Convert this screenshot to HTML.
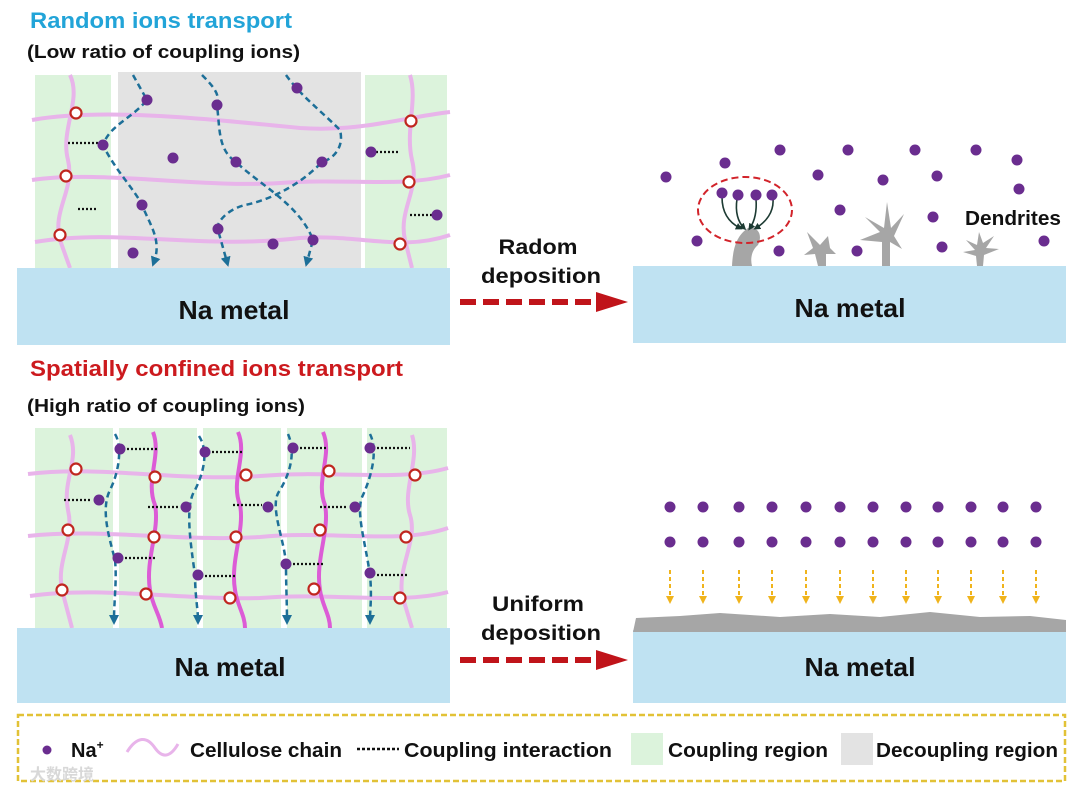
<!DOCTYPE html>
<html><head><meta charset="utf-8"><style>
html,body{margin:0;padding:0;background:#fff;}
svg{display:block;font-family:"Liberation Sans",Arial,sans-serif;font-weight:bold;}
</style></head><body>
<svg width="1080" height="795" viewBox="0 0 1080 795" xmlns="http://www.w3.org/2000/svg">
<defs>
<marker id="ba" markerWidth="10" markerHeight="10" refX="5" refY="5" orient="auto" markerUnits="userSpaceOnUse"><path d="M0,0 L10,5 L0,10 Z" fill="#1d6f98"/></marker>
<marker id="ya" markerWidth="8" markerHeight="8" refX="4" refY="4" orient="auto" markerUnits="userSpaceOnUse"><path d="M0,0 L8,4 L0,8 Z" fill="#f0b41c"/></marker>
<marker id="ka" markerWidth="7" markerHeight="7" refX="4" refY="3.5" orient="auto" markerUnits="userSpaceOnUse"><path d="M0,0 L7,3.5 L0,7 Z" fill="#1d3b33"/></marker>
</defs>

<!-- Titles -->
<text x="30" y="28" font-size="22" fill="#22a4d8" textLength="262" lengthAdjust="spacingAndGlyphs">Random ions transport</text>
<text x="27" y="58" font-size="18" fill="#111" textLength="273" lengthAdjust="spacingAndGlyphs">(Low ratio of coupling ions)</text>
<text x="30" y="376" font-size="22" fill="#cc1a1e" textLength="373" lengthAdjust="spacingAndGlyphs">Spatially confined ions transport</text>
<text x="27" y="412" font-size="18" fill="#111" textLength="278" lengthAdjust="spacingAndGlyphs">(High ratio of coupling ions)</text>

<!-- TOP LEFT -->
<rect x="35" y="75" width="76" height="193" fill="#dcf3dc"/>
<rect x="365" y="75" width="82" height="193" fill="#dcf3dc"/>
<rect x="118" y="72" width="243" height="196" fill="#e3e3e3"/>
<g fill="none" stroke="#e8b4ea" stroke-width="4">
<path d="M32,120 C100,108 200,118 300,128 C360,132 400,118 450,112"/>
<path d="M32,180 C100,170 200,188 280,183 C350,178 400,188 450,175"/>
<path d="M35,242 C120,228 200,250 300,238 C360,234 400,252 450,235"/>
<path d="M70,75 C82,100 60,130 68,160 C75,190 52,210 60,240 L70,268"/>
<path d="M410,75 C418,100 405,130 412,160 C420,190 398,210 405,240 L412,268"/>
</g>
<g fill="#fff" stroke="#c0261f" stroke-width="2.2">
<circle cx="76" cy="113" r="5.5"/><circle cx="66" cy="176" r="5.5"/><circle cx="60" cy="235" r="5.5"/>
<circle cx="411" cy="121" r="5.5"/><circle cx="409" cy="182" r="5.5"/><circle cx="400" cy="244" r="5.5"/>
</g>
<g fill="none" stroke="#1d6f98" stroke-width="2.5" stroke-dasharray="6,4">
<path d="M133,75 L147,100 C130,120 110,125 103,145 C115,170 135,190 142,205 C150,225 162,240 154,262" marker-end="url(#ba)"/>
<path d="M202,75 C215,88 220,95 217,105 C220,130 218,150 236,162 C260,185 300,205 313,240 L307,262" marker-end="url(#ba)"/>
<path d="M286,75 C300,95 320,110 340,130 C345,150 330,160 322,162 C300,185 270,200 245,205 C225,210 215,225 218,230 L227,262" marker-end="url(#ba)"/>
</g>
<g stroke="#111" stroke-width="2.2" stroke-dasharray="2,2">
<line x1="68" y1="143" x2="98" y2="143"/><line x1="78" y1="209" x2="98" y2="209"/>
<line x1="376" y1="152" x2="398" y2="152"/><line x1="410" y1="215" x2="432" y2="215"/>
</g>
<g fill="#6a2d8f">
<circle cx="147" cy="100" r="5.5"/><circle cx="217" cy="105" r="5.5"/><circle cx="297" cy="88" r="5.5"/>
<circle cx="103" cy="145" r="5.5"/><circle cx="173" cy="158" r="5.5"/><circle cx="236" cy="162" r="5.5"/>
<circle cx="322" cy="162" r="5.5"/><circle cx="142" cy="205" r="5.5"/><circle cx="218" cy="229" r="5.5"/>
<circle cx="313" cy="240" r="5.5"/><circle cx="273" cy="244" r="5.5"/><circle cx="133" cy="253" r="5.5"/>
<circle cx="371" cy="152" r="5.5"/><circle cx="437" cy="215" r="5.5"/>
</g>
<rect x="17" y="268" width="433" height="77" fill="#bfe2f2"/>
<text x="234" y="319" font-size="26" text-anchor="middle" fill="#111" textLength="111" lengthAdjust="spacingAndGlyphs">Na metal</text>

<!-- middle top -->
<text x="538" y="254" font-size="21" text-anchor="middle" fill="#111" textLength="79" lengthAdjust="spacingAndGlyphs">Radom</text>
<text x="541" y="283" font-size="21" text-anchor="middle" fill="#111" textLength="120" lengthAdjust="spacingAndGlyphs">deposition</text>
<line x1="460" y1="302" x2="600" y2="302" stroke="#c0141a" stroke-width="6" stroke-dasharray="16,7"/>
<path d="M596,292 L628,302 L596,312 Z" fill="#c0141a"/>

<!-- TOP RIGHT -->
<g fill="#a6a6a6">
<path d="M732,266 C733,245 738,235 748,228 C758,226 763,235 758,245 C752,250 750,258 752,266 Z"/>
<path d="M818,266 L815,254 L804,255 L813,248 L807,232 L820,245 L828,236 L830,248 L836,254 L826,254 L826,266 Z"/>
<path d="M882,266 L882,242 L860,240 L880,232 L865,217 L884,228 L887,202 L891,228 L904,214 L894,236 L902,249 L890,242 L890,266 Z"/>
<path d="M977,266 L976,256 L963,252 L975,250 L966,240 L977,245 L979,232 L983,243 L994,236 L986,248 L999,249 L984,255 L983,266 Z"/>
</g>
<ellipse cx="745" cy="210" rx="47" ry="33" fill="none" stroke="#d2232a" stroke-width="2" stroke-dasharray="7,4"/>
<g fill="none" stroke="#1d3b33" stroke-width="1.6">
<path d="M722,197 C722,212 728,222 740,228" marker-end="url(#ka)"/>
<path d="M737,199 C735,212 738,222 744,228" marker-end="url(#ka)"/>
<path d="M756,199 C757,212 754,222 750,228" marker-end="url(#ka)"/>
<path d="M773,199 C774,212 766,222 756,228" marker-end="url(#ka)"/>
</g>
<g fill="#6a2d8f">
<circle cx="666" cy="177" r="5.5"/><circle cx="725" cy="163" r="5.5"/><circle cx="780" cy="150" r="5.5"/>
<circle cx="848" cy="150" r="5.5"/><circle cx="915" cy="150" r="5.5"/><circle cx="976" cy="150" r="5.5"/>
<circle cx="1017" cy="160" r="5.5"/><circle cx="818" cy="175" r="5.5"/><circle cx="883" cy="180" r="5.5"/>
<circle cx="937" cy="176" r="5.5"/><circle cx="1019" cy="189" r="5.5"/><circle cx="840" cy="210" r="5.5"/>
<circle cx="933" cy="217" r="5.5"/><circle cx="697" cy="241" r="5.5"/><circle cx="779" cy="251" r="5.5"/>
<circle cx="857" cy="251" r="5.5"/><circle cx="942" cy="247" r="5.5"/><circle cx="1044" cy="241" r="5.5"/>
<circle cx="722" cy="193" r="5.5"/><circle cx="738" cy="195" r="5.5"/><circle cx="756" cy="195" r="5.5"/><circle cx="772" cy="195" r="5.5"/>
</g>
<text x="965" y="225" font-size="20" fill="#111" textLength="96" lengthAdjust="spacingAndGlyphs">Dendrites</text>
<rect x="633" y="266" width="433" height="77" fill="#bfe2f2"/>
<text x="850" y="317" font-size="26" text-anchor="middle" fill="#111" textLength="111" lengthAdjust="spacingAndGlyphs">Na metal</text>

<!-- BOTTOM LEFT -->
<g fill="#dcf3dc">
<rect x="35" y="428" width="78" height="200"/><rect x="119" y="428" width="78" height="200"/>
<rect x="203" y="428" width="78" height="200"/><rect x="287" y="428" width="75" height="200"/>
<rect x="367" y="428" width="80" height="200"/>
</g>
<g fill="none" stroke="#e8b4ea" stroke-width="4">
<path d="M28,474 C100,465 180,482 260,476 C330,470 400,482 448,468"/>
<path d="M28,536 C100,528 180,542 260,537 C330,530 400,545 448,528"/>
<path d="M30,596 C100,586 180,600 260,598 C330,592 400,605 448,592"/>
<path d="M70,435 C80,460 62,480 68,510 C75,540 56,560 62,590 L72,628"/>
<path d="M412,435 C420,460 402,490 410,515 C418,540 398,565 402,595 L412,628"/>
</g>
<g fill="none" stroke="#dc5cd6" stroke-width="4">
<path d="M153,432 C162,455 145,480 155,505 C160,530 145,560 150,590 C152,605 160,615 162,628"/>
<path d="M238,432 C248,455 230,480 240,505 C245,530 230,560 235,590 C237,605 245,615 245,628"/>
<path d="M323,432 C333,455 315,480 325,505 C330,530 315,560 320,590 C322,605 330,615 330,628"/>
</g>
<g fill="#fff" stroke="#c0261f" stroke-width="2.2">
<circle cx="76" cy="469" r="5.5"/><circle cx="155" cy="477" r="5.5"/><circle cx="246" cy="475" r="5.5"/><circle cx="329" cy="471" r="5.5"/><circle cx="415" cy="475" r="5.5"/>
<circle cx="68" cy="530" r="5.5"/><circle cx="154" cy="537" r="5.5"/><circle cx="236" cy="537" r="5.5"/><circle cx="320" cy="530" r="5.5"/><circle cx="406" cy="537" r="5.5"/>
<circle cx="62" cy="590" r="5.5"/><circle cx="146" cy="594" r="5.5"/><circle cx="230" cy="598" r="5.5"/><circle cx="314" cy="589" r="5.5"/><circle cx="400" cy="598" r="5.5"/>
</g>
<g fill="none" stroke="#1d6f98" stroke-width="2.5" stroke-dasharray="6,4">
<path d="M115,434 C122,445 120,470 110,490 C100,510 110,540 115,560 C117,580 114,600 114,620" marker-end="url(#ba)"/>
<path d="M199,436 C208,450 205,470 195,490 C185,505 190,540 195,575 C195,595 198,610 198,620" marker-end="url(#ba)"/>
<path d="M288,434 C295,450 292,470 280,490 C268,505 285,540 286,565 C286,585 287,605 287,620" marker-end="url(#ba)"/>
<path d="M370,434 C378,450 372,475 363,495 C355,510 365,540 370,575 C372,595 370,610 370,620" marker-end="url(#ba)"/>
</g>
<g stroke="#111" stroke-width="2.2" stroke-dasharray="2,2">
<line x1="127" y1="449" x2="157" y2="449"/><line x1="212" y1="452" x2="243" y2="452"/><line x1="300" y1="448" x2="328" y2="448"/><line x1="377" y1="448" x2="410" y2="448"/>
<line x1="64" y1="500" x2="92" y2="500"/><line x1="148" y1="507" x2="180" y2="507"/><line x1="233" y1="505" x2="262" y2="505"/><line x1="320" y1="507" x2="348" y2="507"/>
<line x1="125" y1="558" x2="157" y2="558"/><line x1="205" y1="576" x2="235" y2="576"/><line x1="293" y1="564" x2="325" y2="564"/><line x1="377" y1="575" x2="407" y2="575"/>
</g>
<g fill="#6a2d8f">
<circle cx="120" cy="449" r="5.5"/><circle cx="205" cy="452" r="5.5"/><circle cx="293" cy="448" r="5.5"/><circle cx="370" cy="448" r="5.5"/>
<circle cx="99" cy="500" r="5.5"/><circle cx="186" cy="507" r="5.5"/><circle cx="268" cy="507" r="5.5"/><circle cx="355" cy="507" r="5.5"/>
<circle cx="118" cy="558" r="5.5"/><circle cx="198" cy="575" r="5.5"/><circle cx="286" cy="564" r="5.5"/><circle cx="370" cy="573" r="5.5"/>
</g>
<rect x="17" y="628" width="433" height="75" fill="#bfe2f2"/>
<text x="230" y="676" font-size="26" text-anchor="middle" fill="#111" textLength="111" lengthAdjust="spacingAndGlyphs">Na metal</text>

<!-- middle bottom -->
<text x="538" y="611" font-size="21" text-anchor="middle" fill="#111" textLength="92" lengthAdjust="spacingAndGlyphs">Uniform</text>
<text x="541" y="640" font-size="21" text-anchor="middle" fill="#111" textLength="120" lengthAdjust="spacingAndGlyphs">deposition</text>
<line x1="460" y1="660" x2="600" y2="660" stroke="#c0141a" stroke-width="6" stroke-dasharray="16,7"/>
<path d="M596,650 L628,660 L596,670 Z" fill="#c0141a"/>

<!-- BOTTOM RIGHT -->
<g fill="#6a2d8f">
<circle cx="670" cy="507" r="5.5"/><circle cx="703" cy="507" r="5.5"/><circle cx="739" cy="507" r="5.5"/><circle cx="772" cy="507" r="5.5"/><circle cx="806" cy="507" r="5.5"/><circle cx="840" cy="507" r="5.5"/><circle cx="873" cy="507" r="5.5"/><circle cx="906" cy="507" r="5.5"/><circle cx="938" cy="507" r="5.5"/><circle cx="971" cy="507" r="5.5"/><circle cx="1003" cy="507" r="5.5"/><circle cx="1036" cy="507" r="5.5"/>
<circle cx="670" cy="542" r="5.5"/><circle cx="703" cy="542" r="5.5"/><circle cx="739" cy="542" r="5.5"/><circle cx="772" cy="542" r="5.5"/><circle cx="806" cy="542" r="5.5"/><circle cx="840" cy="542" r="5.5"/><circle cx="873" cy="542" r="5.5"/><circle cx="906" cy="542" r="5.5"/><circle cx="938" cy="542" r="5.5"/><circle cx="971" cy="542" r="5.5"/><circle cx="1003" cy="542" r="5.5"/><circle cx="1036" cy="542" r="5.5"/>
</g>
<g stroke="#f0b41c" stroke-width="2" stroke-dasharray="4,3">
<line x1="670" y1="570" x2="670" y2="600" marker-end="url(#ya)"/><line x1="703" y1="570" x2="703" y2="600" marker-end="url(#ya)"/><line x1="739" y1="570" x2="739" y2="600" marker-end="url(#ya)"/><line x1="772" y1="570" x2="772" y2="600" marker-end="url(#ya)"/><line x1="806" y1="570" x2="806" y2="600" marker-end="url(#ya)"/><line x1="840" y1="570" x2="840" y2="600" marker-end="url(#ya)"/><line x1="873" y1="570" x2="873" y2="600" marker-end="url(#ya)"/><line x1="906" y1="570" x2="906" y2="600" marker-end="url(#ya)"/><line x1="938" y1="570" x2="938" y2="600" marker-end="url(#ya)"/><line x1="971" y1="570" x2="971" y2="600" marker-end="url(#ya)"/><line x1="1003" y1="570" x2="1003" y2="600" marker-end="url(#ya)"/><line x1="1036" y1="570" x2="1036" y2="600" marker-end="url(#ya)"/>
</g>
<rect x="633" y="630" width="433" height="73" fill="#bfe2f2"/>
<path d="M633,632 L636,618 L680,616 L720,613 L780,617 L830,614 L880,617 L930,612 L980,617 L1030,616 L1066,620 L1066,632 Z" fill="#a6a6a6"/>
<text x="860" y="676" font-size="26" text-anchor="middle" fill="#111" textLength="111" lengthAdjust="spacingAndGlyphs">Na metal</text>

<!-- LEGEND -->
<rect x="18" y="715" width="1047" height="66" fill="none" stroke="#e2c237" stroke-width="2.5" stroke-dasharray="6,3"/>
<circle cx="47" cy="750" r="4.5" fill="#6a2d8f"/>
<text x="71" y="757" font-size="20" fill="#111">Na<tspan font-size="12" dy="-8">+</tspan></text>
<path d="M127,752 C137,736 147,736 155,748 C162,758 170,758 178,744" fill="none" stroke="#e8b4ea" stroke-width="3"/>
<text x="190" y="757" font-size="20" fill="#111" textLength="152" lengthAdjust="spacingAndGlyphs">Cellulose chain</text>
<line x1="357" y1="749" x2="399" y2="749" stroke="#111" stroke-width="2.5" stroke-dasharray="3,2"/>
<text x="404" y="757" font-size="20" fill="#111" textLength="208" lengthAdjust="spacingAndGlyphs">Coupling  interaction</text>
<rect x="631" y="733" width="32" height="32" fill="#dcf3dc"/>
<text x="668" y="757" font-size="20" fill="#111" textLength="160" lengthAdjust="spacingAndGlyphs">Coupling region</text>
<rect x="841" y="733" width="32" height="32" fill="#e3e3e3"/>
<text x="876" y="757" font-size="20" fill="#111" textLength="182" lengthAdjust="spacingAndGlyphs">Decoupling region</text>
<text x="30" y="780" font-size="16" fill="#d8d8d8" font-family="'Noto Sans CJK SC',sans-serif">大数跨境</text>
</svg>
</body></html>
